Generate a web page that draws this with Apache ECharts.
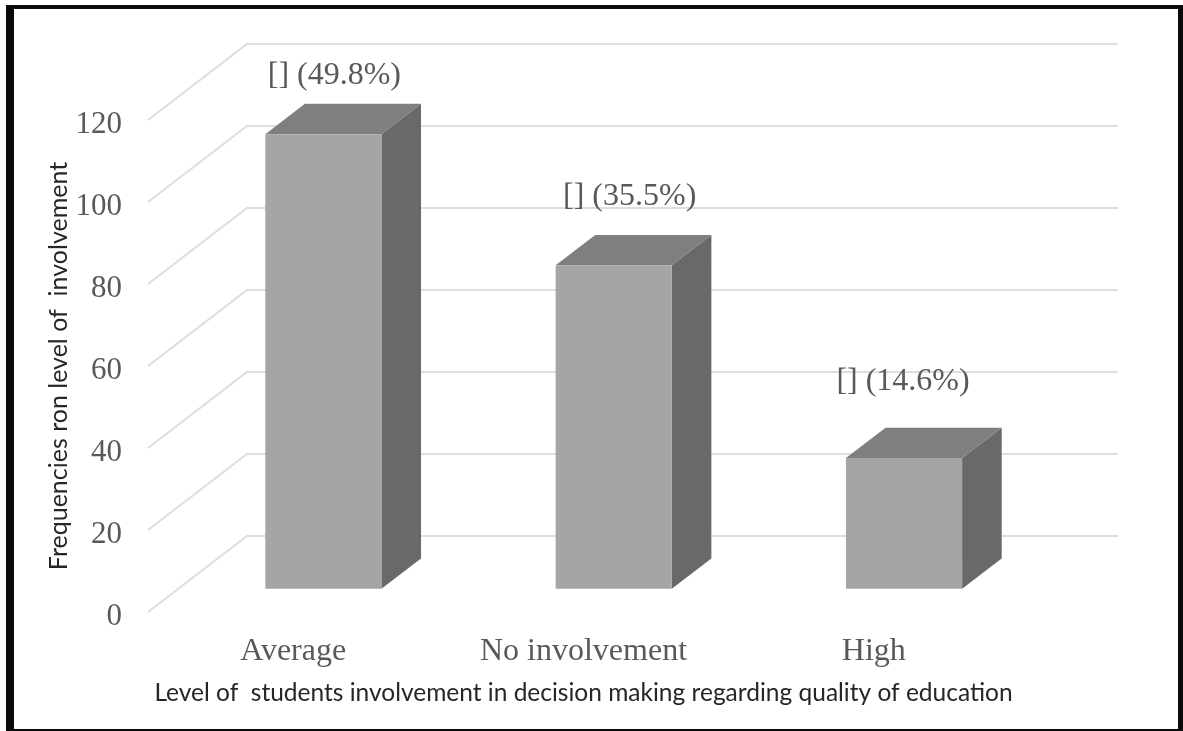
<!DOCTYPE html>
<html>
<head>
<meta charset="utf-8">
<title>Level of students involvement</title>
<style>
  html, body { margin: 0; padding: 0; background: #ffffff; }
  #chart { width: 1183px; height: 731px; }
</style>
<script src="https://cdn.jsdelivr.net/npm/echarts@6/dist/echarts.min.js"></script>
</head>
<body>
<div id="chart"></div>
<script>
// Chart data
const categories = ['Average', 'No involvement', 'High'];
const frequencies = [110.9, 78.9, 31.9];
const barLabels = ['[] (49.8%)', '[] (35.5%)', '[] (14.6%)'];
const yTicks = [0, 20, 40, 60, 80, 100, 120];
const xTitle = 'Level of  students involvement in decision making regarding quality of education';
const yTitle = 'Frequencies ron level of  involvement';

// Oblique projection of the 3D box: how far the back wall sits from the front plane
const WALL_DX = 99;
const WALL_DY = -76;
// Where a bar's front and back faces sit along that depth
const BAR_FRONT = 0.305;
const BAR_BACK = 0.705;
const BAR_WIDTH_RATIO = 0.4;
// Label placement above each bar's back edge
const LABEL_SHIFT = [[11, -28], [16, -38], [-1, -46]];

const SERIF = '"Liberation Serif", "Times New Roman", serif';
const SANS = 'Lato, Carlito, "Open Sans", sans-serif';
const TEXT_GREY = '#595959';

function renderGridLine(params, api) {
  const box = params.coordSys;
  const y = api.coord([0, api.value(1)])[1];
  return {
    type: 'polyline',
    silent: true,
    shape: {
      points: [
        [box.x, y],
        [box.x + WALL_DX, y + WALL_DY],
        [box.x + WALL_DX + box.width, y + WALL_DY]
      ]
    },
    style: { stroke: '#dedede', lineWidth: 2, fill: null }
  };
}

function renderBar(params, api) {
  const base = api.coord([api.value(0), 0]);
  const top = api.coord([api.value(0), api.value(1)]);
  const half = api.size([1, 0])[0] * BAR_WIDTH_RATIO / 2;
  const fx = WALL_DX * BAR_FRONT, fy = WALL_DY * BAR_FRONT;
  const bx = WALL_DX * BAR_BACK, by = WALL_DY * BAR_BACK;
  const l = base[0] - half, r = base[0] + half;
  const yb = base[1], yt = top[1];
  const shift = LABEL_SHIFT[params.dataIndex];
  return {
    type: 'group',
    children: [
      {
        type: 'polygon',
        shape: { points: [[r + fx, yt + fy], [r + bx, yt + by], [r + bx, yb + by], [r + fx, yb + fy]] },
        style: { fill: '#696969' }
      },
      {
        type: 'polygon',
        shape: { points: [[l + fx, yt + fy], [l + bx, yt + by], [r + bx, yt + by], [r + fx, yt + fy]] },
        style: { fill: '#7f7f7f' }
      },
      {
        type: 'rect',
        shape: { x: l + fx, y: yt + fy, width: r - l, height: yb - yt },
        style: { fill: '#a5a5a5' }
      },
      {
        type: 'text',
        style: {
          text: barLabels[params.dataIndex],
          x: base[0] + fx + shift[0],
          y: yt + by + shift[1],
          align: 'center',
          verticalAlign: 'middle',
          fontFamily: SERIF,
          fontSize: 32,
          fill: TEXT_GREY
        }
      }
    ]
  };
}

// Page frame drawn as four solid strips
const frameStrips = [
  { x: 6, y: 5, width: 1177, height: 4 },
  { x: 6, y: 5, width: 8, height: 726 },
  { x: 1178, y: 5, width: 5, height: 726 },
  { x: 6, y: 729, width: 1177, height: 2 }
];

const chart = echarts.init(document.getElementById('chart'), null, { renderer: 'canvas' });
chart.setOption({
  animation: false,
  backgroundColor: '#ffffff',
  grid: { left: 148, top: 120, width: 871, height: 492, containLabel: false },
  graphic: frameStrips.map(s => ({
    type: 'rect',
    silent: true,
    shape: s,
    style: { fill: '#0a0a0a' }
  })),
  xAxis: {
    type: 'category',
    data: categories,
    axisLine: { show: false },
    axisTick: { show: false },
    splitLine: { show: false },
    axisLabel: { fontFamily: SERIF, fontSize: 32, color: TEXT_GREY, margin: 24 },
    name: xTitle,
    nameLocation: 'middle',
    nameGap: 69,
    nameMoveOverlap: false,
    nameTextStyle: { fontFamily: SANS, fontSize: 24.5, color: '#262626' }
  },
  yAxis: {
    type: 'value',
    min: 0,
    max: 120,
    interval: 20,
    axisLine: { show: false },
    axisTick: { show: false },
    splitLine: { show: false },
    axisLabel: {
      margin: 26,
      formatter: '{t|{value}}',
      rich: {
        // the top padding drops the digits onto their gridline ends
        t: { fontFamily: SERIF, fontSize: 31, color: TEXT_GREY, padding: [10, 0, 0, 0] }
      }
    },
    name: yTitle,
    nameLocation: 'middle',
    nameGap: 77,
    nameMoveOverlap: false,
    nameTextStyle: { fontFamily: SANS, fontSize: 25, color: '#262626' }
  },
  series: [
    {
      type: 'custom',
      z: 1,
      clip: false,
      silent: true,
      renderItem: renderGridLine,
      encode: { x: 0, y: 1 },
      data: yTicks.map(v => [0, v])
    },
    {
      type: 'custom',
      z: 2,
      clip: false,
      renderItem: renderBar,
      encode: { x: 0, y: 1 },
      data: frequencies.map((v, i) => [i, v])
    }
  ]
});
</script>
</body>
</html>
